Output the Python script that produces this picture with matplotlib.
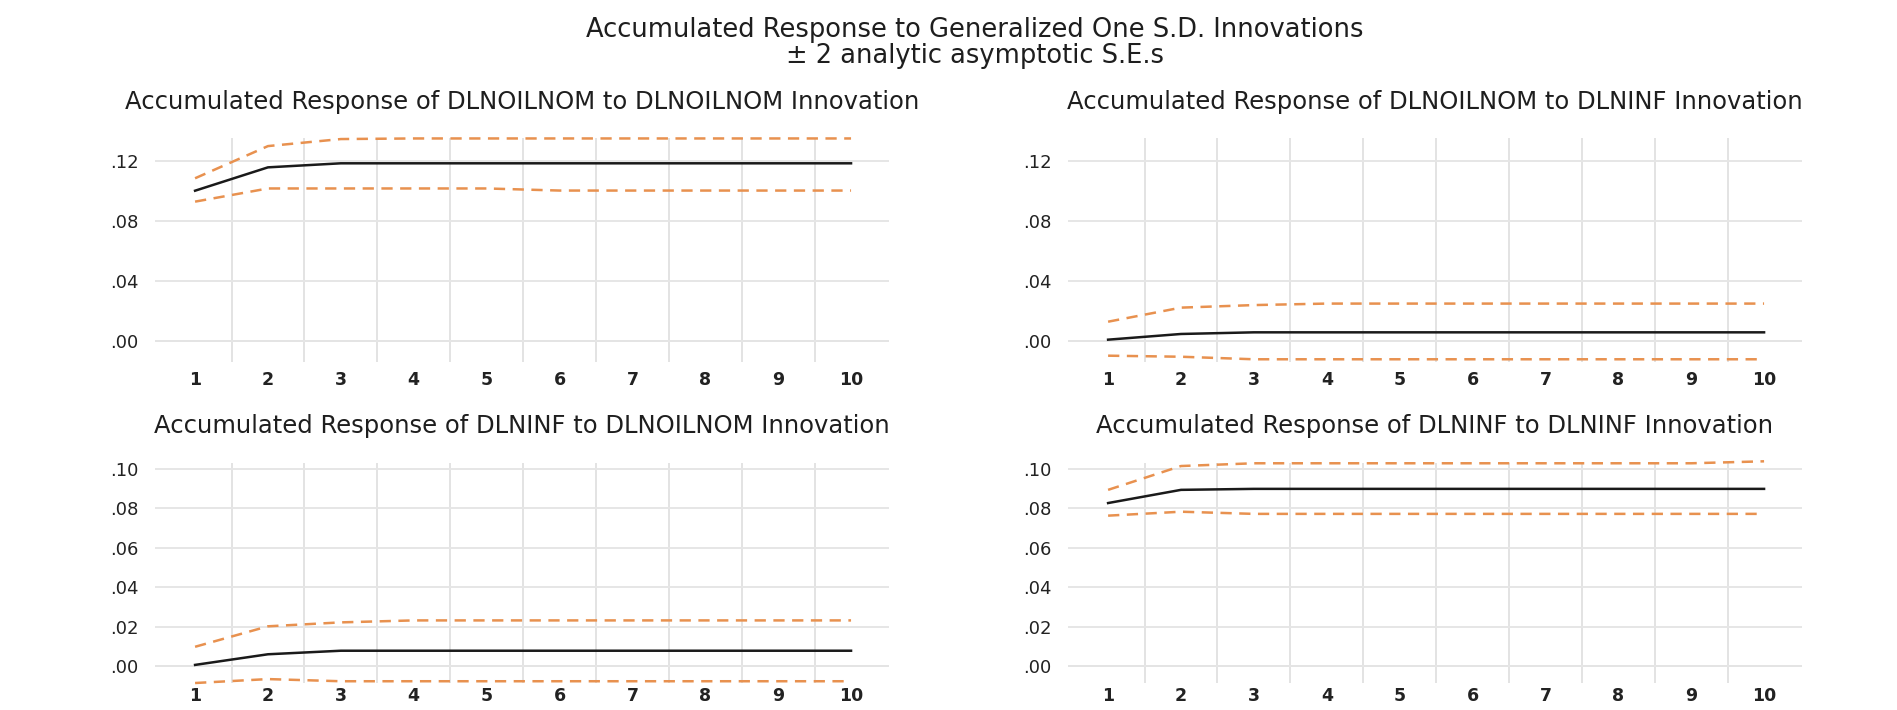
import matplotlib
matplotlib.use("Agg")
import matplotlib.pyplot as plt
from matplotlib.ticker import FuncFormatter, MultipleLocator

plt.rcParams['font.family'] = ['DejaVu Sans']

# Data: periods and accumulated responses
periods = [1, 2, 3, 4, 5, 6, 7, 8, 9, 10]

oil_oil = [0.1004, 0.1160, 0.1187, 0.1187, 0.1187, 0.1187, 0.1187, 0.1187, 0.1187, 0.1187]
oil_oil_up = [0.1087, 0.1302, 0.1349, 0.1353, 0.1353, 0.1353, 0.1353, 0.1353, 0.1353, 0.1353]
oil_oil_lo = [0.0931, 0.1019, 0.1019, 0.1019, 0.1019, 0.1005, 0.1005, 0.1005, 0.1005, 0.1005]

oil_inf = [0.0009, 0.0047, 0.0058, 0.0058, 0.0058, 0.0058, 0.0058, 0.0058, 0.0058, 0.0058]
oil_inf_up = [0.0129, 0.0223, 0.0240, 0.0250, 0.0250, 0.0250, 0.0250, 0.0250, 0.0250, 0.0250]
oil_inf_lo = [-0.0098, -0.0105, -0.0122, -0.0122, -0.0122, -0.0122, -0.0122, -0.0122, -0.0122, -0.0122]

inf_oil = [0.0005, 0.0059, 0.0077, 0.0077, 0.0077, 0.0077, 0.0077, 0.0077, 0.0077, 0.0077]
inf_oil_up = [0.0097, 0.0201, 0.0221, 0.0231, 0.0231, 0.0231, 0.0231, 0.0231, 0.0231, 0.0231]
inf_oil_lo = [-0.0087, -0.0067, -0.0078, -0.0078, -0.0078, -0.0078, -0.0078, -0.0078, -0.0078, -0.0078]

inf_inf = [0.0827, 0.0894, 0.0899, 0.0899, 0.0899, 0.0899, 0.0899, 0.0899, 0.0899, 0.0899]
inf_inf_up = [0.0894, 0.1015, 0.1029, 0.1029, 0.1029, 0.1029, 0.1029, 0.1029, 0.1029, 0.1039]
inf_inf_lo = [0.0763, 0.0783, 0.0772, 0.0772, 0.0772, 0.0772, 0.0772, 0.0772, 0.0772, 0.0772]

titles = ["Accumulated Response of DLNOILNOM to DLNOILNOM Innovation",
          "Accumulated Response of DLNOILNOM to DLNINF Innovation",
          "Accumulated Response of DLNINF to DLNOILNOM Innovation",
          "Accumulated Response of DLNINF to DLNINF Innovation"]

panels = [(oil_oil, oil_oil_up, oil_oil_lo),
          (oil_inf, oil_inf_up, oil_inf_lo),
          (inf_oil, inf_oil_up, inf_oil_lo),
          (inf_inf, inf_inf_up, inf_inf_lo)]

fig = plt.figure(figsize=(18.97, 7.10), dpi=100)

# axes boxes [left, bottom, width, height] in figure fractions
boxes = [[0.0817, 0.4906, 0.3869, 0.3146],
         [0.5630, 0.4906, 0.3869, 0.3146],
         [0.0817, 0.0380, 0.3869, 0.3095],
         [0.5630, 0.0380, 0.3869, 0.3095]]
title_y = [0.857, 0.857, 0.400, 0.400]
ylims = [(-0.0138, 0.1354), (-0.0138, 0.1354), (-0.0087, 0.1029), (-0.0087, 0.1029)]
ysteps = [0.04, 0.04, 0.02, 0.02]
xpads = [7, 7, 3, 3]

orange = '#E8914F'
fmt = FuncFormatter(lambda v, p: ("%.2f" % v).replace("0.", ".", 1))

for i, (resp, up, lo) in enumerate(panels):
    ax = fig.add_axes(boxes[i])
    ax.set_xlim(0.45, 10.52)
    for s in ax.spines.values():
        s.set_visible(False)

    # grid: vertical lines between periods, horizontal at ticks
    ax.set_xticks(periods)
    ax.set_xticklabels([str(p) for p in periods], fontweight='bold')
    ax.set_xticks([x + 0.5 for x in periods[:-1]], minor=True)
    ax.yaxis.set_major_locator(MultipleLocator(ysteps[i]))
    ax.yaxis.set_major_formatter(fmt)
    ax.grid(True, which='minor', axis='x', color='#E3E3E3', linewidth=1.4)
    ax.grid(True, which='major', axis='y', color='#E6E6E6', linewidth=1.4)
    ax.axhline(0, color='#ABABAB', linewidth=1.4, zorder=1)
    ax.tick_params(which='both', length=0)
    ax.tick_params(axis='y', pad=12, labelsize=13, labelcolor='#222222')
    ax.tick_params(axis='x', pad=xpads[i], labelsize=12.5, labelcolor='#222222')
    ax.set_ylim(*ylims[i])

    ax.plot(periods, up, color=orange, linewidth=1.8, dashes=(4.5, 3), clip_on=False, zorder=3)
    ax.plot(periods, lo, color=orange, linewidth=1.8, dashes=(4.5, 3), clip_on=False, zorder=3)
    ax.plot(periods, resp, color='#1A1A1A', linewidth=1.8, clip_on=False, zorder=4)

    cx = boxes[i][0] + boxes[i][2] / 2
    fig.text(cx, title_y[i], titles[i], ha='center', va='center', fontsize=17.5, color='#1E1E1E')

fig.text(0.514, 0.958, "Accumulated Response to Generalized One S.D. Innovations",
         ha='center', va='center', fontsize=18.5, color='#1E1E1E')
fig.text(0.514, 0.921, "± 2 analytic asymptotic S.E.s",
         ha='center', va='center', fontsize=18.5, color='#1E1E1E')

fig.savefig("out.png", dpi=100)
